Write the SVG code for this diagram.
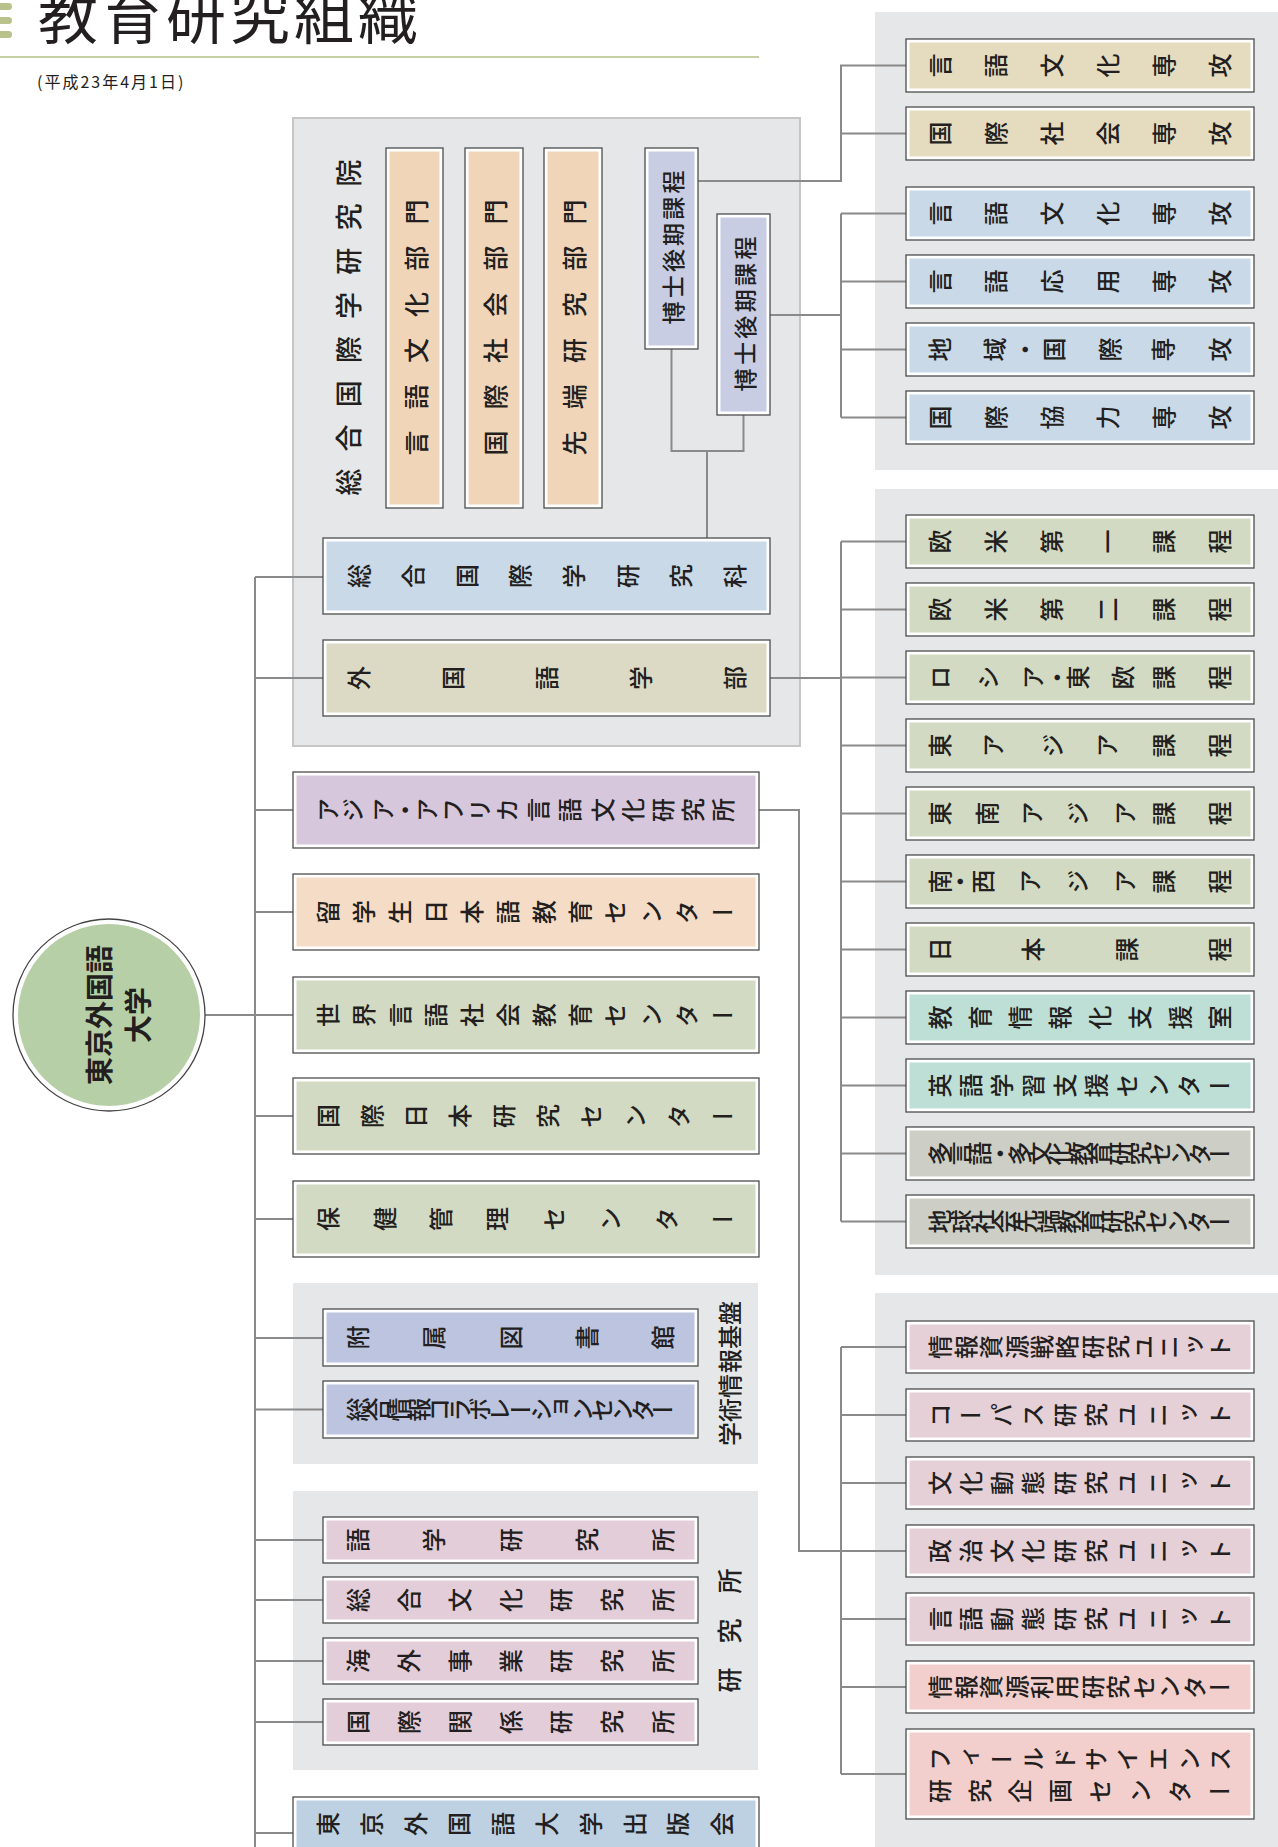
<svg xmlns="http://www.w3.org/2000/svg" width="1278" height="1847" viewBox="0 0 1278 1847">
<style>
text { font-family: "Noto Sans CJK JP", "Noto Sans CJK SC", sans-serif; fill: #231f20; font-weight: 500; }
.h { writing-mode: vertical-rl; text-anchor: middle; font-size: 24px; }
.r { text-anchor: middle; dominant-baseline: central; }
.ob { fill: #fff; stroke: #4d4d4d; stroke-width: 1.3; }
.panel { fill: #e6e7e9; }
.ln { fill: none; stroke: #8a8a8a; stroke-width: 2; }
.c-or { fill: #f1d5b9; } .c-ph { fill: #c8cde3; } .c-bl { fill: #c9d9e7; } .c-kh { fill: #dcdac5; }
.c-li { fill: #d7c7dc; } .c-pe { fill: #f4dcc6; } .c-gr { fill: #d2dac3; } .c-pw { fill: #bcc4df; }
.c-pk { fill: #e3cdd9; } .c-pb { fill: #bdd1e3; } .c-be { fill: #e5dcc0; } .c-mi { fill: #bedfd6; }
.c-gy { fill: #cdcfc6; } .c-un { fill: #e5d0d8; } .c-sa { fill: #f2cfcd; }
</style>

<g id="title">
  <rect x="-6" y="3" width="18" height="7" rx="3.5" fill="#b8c28a"/>
  <rect x="-6" y="17" width="18" height="7" rx="3.5" fill="#b8c28a"/>
  <rect x="-6" y="31" width="18" height="7" rx="3.5" fill="#b8c28a"/>
  <text x="38" y="39" font-size="60" letter-spacing="4" style="font-weight:400">教育研究組織</text>
  <line x1="0" y1="57" x2="759" y2="57" stroke="#c5d0a5" stroke-width="2"/>
  <text x="37" y="88" font-size="16" letter-spacing="2" style="font-weight:400">(平成23年4月1日)</text>
</g>

<g id="panels">
  <rect x="293" y="118" width="507" height="628" fill="#e6e7e9" stroke="#c6c6c6" stroke-width="2"/>
  <rect class="panel" x="875" y="12" width="403" height="458"/>
  <rect class="panel" x="875" y="489" width="403" height="786"/>
  <rect class="panel" x="875" y="1293" width="403" height="560"/>
  <rect class="panel" x="293" y="1283" width="465" height="181"/>
  <rect class="panel" x="293" y="1491" width="465" height="279"/>
  <text class="r" font-size="27" transform="translate(347,0) rotate(-90)" x="-482 -437.9 -393.7 -349.6 -305.4 -261.3 -217.1 -173" y="0">総合国際学研究院</text>
  <text class="r" font-size="24" transform="translate(728,0) rotate(-90)" x="-1434 -1410 -1386 -1361 -1337 -1313" y="0">学術情報基盤</text>
  <text class="r" font-size="25" transform="translate(728,0) rotate(-90)" x="-1680 -1631 -1581" y="0">研究所</text>
</g>

<g id="connectors">
  <path class="ln" d="M255 577 V1847 M205 1015 H255
  M255 577 H323 M255 678 H323 M255 810 H293 M255 912 H293 M255 1015 H293 M255 1116 H293 M255 1219 H293
  M255 1338 H323 M255 1409.5 H323 M255 1540 H323 M255 1600 H323 M255 1661 H323 M255 1722 H323 M255 1833 H293
  M671.5 349 V451 H743.5 V415 M707 451 V538
  M698 181 H841 V65.5 H906 M841 133.5 H906
  M770 315 H841 M841 213.5 V417.5 M841 213.5 H906 M841 281.5 H906 M841 349.5 H906 M841 417.5 H906
  M770 678 H841 M841 541.5 V1221.5
  M841 541.5 H906 M841 609.5 H906 M841 677.5 H906 M841 745.5 H906 M841 813.5 H906 M841 881.5 H906
  M841 949.5 H906 M841 1017.5 H906 M841 1085.5 H906 M841 1153.5 H906 M841 1221.5 H906
  M759 810 H799 V1551 H841 M841 1347 V1774
  M841 1347 H906 M841 1415 H906 M841 1483 H906 M841 1551 H906 M841 1619 H906 M841 1687 H906 M841 1774 H906"/>
</g>

<g id="university">
  <circle cx="109" cy="1015" r="96" fill="#fff" stroke="#444" stroke-width="1.3"/>
  <circle cx="109" cy="1015" r="91" fill="#b7cfa7"/>
  <text class="r" font-size="28" transform="translate(98,0) rotate(-90)" x="-1015" y="0" style="font-weight:bold">東京外国語</text>
  <text class="r" font-size="28" transform="translate(137,0) rotate(-90)" x="-1015" y="0" style="font-weight:bold">大学</text>
</g>

<g id="div-gengo-bunka">
  <rect class="ob" x="386" y="148" width="57" height="360"/><rect class="c-or" x="389.5" y="151.5" width="50" height="353"/>
  <text class="r" font-size="25" transform="translate(414.5,0) rotate(-90)" x="-443 -396.8 -350.6 -304.4 -258.2 -212" y="0">言語文化部門</text>
</g>
<g id="div-kokusai-shakai">
  <rect class="ob" x="465" y="148" width="58" height="360"/><rect class="c-or" x="468.5" y="151.5" width="51" height="353"/>
  <text class="r" font-size="25" transform="translate(494,0) rotate(-90)" x="-443 -396.8 -350.6 -304.4 -258.2 -212" y="0">国際社会部門</text>
</g>
<g id="div-sentan">
  <rect class="ob" x="544" y="148" width="58" height="360"/><rect class="c-or" x="547.5" y="151.5" width="51" height="353"/>
  <text class="r" font-size="25" transform="translate(573,0) rotate(-90)" x="-443 -396.8 -350.6 -304.4 -258.2 -212" y="0">先端研究部門</text>
</g>
<g id="doctoral-1">
  <rect class="ob" x="645" y="148" width="53" height="201"/><rect class="c-ph" x="648.5" y="151.5" width="46" height="194"/>
  <text class="r" font-size="23" transform="translate(671.5,0) rotate(-90)" x="-313 -286.8 -260.6 -234.4 -208.2 -182" y="0">博士後期課程</text>
</g>
<g id="doctoral-2">
  <rect class="ob" x="717" y="214" width="53" height="201"/><rect class="c-ph" x="720.5" y="217.5" width="46" height="194"/>
  <text class="r" font-size="23" transform="translate(743.5,0) rotate(-90)" x="-380 -353.6 -327.2 -300.8 -274.4 -248" y="0">博士後期課程</text>
</g>
<g id="graduate-school">
  <rect class="ob" x="323" y="538" width="447" height="76"/><rect class="c-bl" x="326.5" y="541.5" width="440" height="69"/>
  <text class="h" font-size="25" transform="translate(0,576) rotate(-90)" y="359 412.7 466.4 520.1 573.9 627.6 681.3 735">総合国際学研究科</text>
</g>
<g id="faculty">
  <rect class="ob" x="323" y="640" width="447" height="76"/><rect class="c-kh" x="326.5" y="643.5" width="440" height="69"/>
  <text class="h" font-size="25" transform="translate(0,678) rotate(-90)" y="359 453 547 641 735">外国語学部</text>
</g>
<g id="aa-ken">
  <rect class="ob" x="293" y="772" width="466" height="76"/><rect class="c-li" x="296.5" y="775.5" width="459" height="69"/>
  <text class="h" font-size="25" transform="translate(0,810) rotate(-90)" y="328 353 383 405 427 453 480 507 538 570 603 633 663 693 723">アジア・アフリカ言語文化研究所</text>
</g>
<g id="ryugakusei">
  <rect class="ob" x="293" y="874" width="466" height="76"/><rect class="c-pe" x="296.5" y="877.5" width="459" height="69"/>
  <text class="h" font-size="25" transform="translate(0,912) rotate(-90)" y="328 363.9 399.8 435.7 471.6 507.5 543.5 579.4 615.3 651.2 687.1 723">留学生日本語教育センター</text>
</g>
<g id="sekai-gengo">
  <rect class="ob" x="293" y="977" width="466" height="76"/><rect class="c-gr" x="296.5" y="980.5" width="459" height="69"/>
  <text class="h" font-size="25" transform="translate(0,1015) rotate(-90)" y="328 363.9 399.8 435.7 471.6 507.5 543.5 579.4 615.3 651.2 687.1 723">世界言語社会教育センター</text>
</g>
<g id="kokusai-nihon">
  <rect class="ob" x="293" y="1078" width="466" height="76"/><rect class="c-gr" x="296.5" y="1081.5" width="459" height="69"/>
  <text class="h" font-size="25" transform="translate(0,1116) rotate(-90)" y="328 371.9 415.8 459.7 503.6 547.4 591.3 635.2 679.1 723">国際日本研究センター</text>
</g>
<g id="hoken">
  <rect class="ob" x="293" y="1181" width="466" height="76"/><rect class="c-gr" x="296.5" y="1184.5" width="459" height="69"/>
  <text class="h" font-size="25" transform="translate(0,1219) rotate(-90)" y="328 384.4 440.9 497.3 553.7 610.1 666.6 723">保健管理センター</text>
</g>
<g id="library">
  <rect class="ob" x="323" y="1309" width="375" height="57"/><rect class="c-pw" x="326.5" y="1312.5" width="368" height="50"/>
  <text class="h" transform="translate(0,1337.5) rotate(-90)" y="358 434.25 510.5 586.75 663">附属図書館</text>
</g>
<g id="collaboration">
  <rect class="ob" x="323" y="1381" width="375" height="57"/><rect class="c-pw" x="326.5" y="1384.5" width="368" height="50"/>
  <text class="h" font-size="20.5" transform="translate(0,1409.5) rotate(-90)" y="358 378.3 398.7 419 439.3 459.7 480 500.3 520.7 541 561.3 581.7 602 622.3 642.7 663">総合情報コラボレーションセンター</text>
</g>
<g id="gogaku">
  <rect class="ob" x="323" y="1517" width="375" height="46"/><rect class="c-pk" x="326.5" y="1520.5" width="368" height="39"/>
  <text class="h" transform="translate(0,1540) rotate(-90)" y="358 434.25 510.5 586.75 663">語学研究所</text>
</g>
<g id="sogo-bunka">
  <rect class="ob" x="323" y="1577" width="375" height="46"/><rect class="c-pk" x="326.5" y="1580.5" width="368" height="39"/>
  <text class="h" transform="translate(0,1600) rotate(-90)" y="358 408.8 459.7 510.5 561.3 612.2 663">総合文化研究所</text>
</g>
<g id="kaigai">
  <rect class="ob" x="323" y="1638" width="375" height="46"/><rect class="c-pk" x="326.5" y="1641.5" width="368" height="39"/>
  <text class="h" transform="translate(0,1661) rotate(-90)" y="358 408.8 459.7 510.5 561.3 612.2 663">海外事業研究所</text>
</g>
<g id="kokusai-kankei">
  <rect class="ob" x="323" y="1699" width="375" height="46"/><rect class="c-pk" x="326.5" y="1702.5" width="368" height="39"/>
  <text class="h" transform="translate(0,1722) rotate(-90)" y="358 408.8 459.7 510.5 561.3 612.2 663">国際関係研究所</text>
</g>
<g id="shuppankai">
  <rect class="ob" x="293" y="1797" width="466" height="80"/><rect class="c-pb" x="296.5" y="1800.5" width="459" height="73"/>
  <text class="h" font-size="26" transform="translate(0,1824) rotate(-90)" y="328 371.8 415.6 459.3 503.1 546.9 590.7 634.4 678.2 722">東京外国語大学出版会</text>
</g>

<g id="m-gengo-bunka">
  <rect class="ob" x="906" y="39" width="348" height="53"/><rect class="c-be" x="909.5" y="42.5" width="341" height="46"/>
  <text class="h" transform="translate(0,65.5) rotate(-90)" y="940 996 1052 1108 1164 1220">言語文化専攻</text>
</g>
<g id="m-kokusai-shakai">
  <rect class="ob" x="906" y="107" width="348" height="53"/><rect class="c-be" x="909.5" y="110.5" width="341" height="46"/>
  <text class="h" transform="translate(0,133.5) rotate(-90)" y="940 996 1052 1108 1164 1220">国際社会専攻</text>
</g>
<g id="d-gengo-bunka">
  <rect class="ob" x="906" y="187" width="348" height="53"/><rect class="c-bl" x="909.5" y="190.5" width="341" height="46"/>
  <text class="h" transform="translate(0,213.5) rotate(-90)" y="940 996 1052 1108 1164 1220">言語文化専攻</text>
</g>
<g id="d-gengo-oyo">
  <rect class="ob" x="906" y="255" width="348" height="53"/><rect class="c-bl" x="909.5" y="258.5" width="341" height="46"/>
  <text class="h" transform="translate(0,281.5) rotate(-90)" y="940 996 1052 1108 1164 1220">言語応用専攻</text>
</g>
<g id="d-chiiki">
  <rect class="ob" x="906" y="323" width="348" height="53"/><rect class="c-bl" x="909.5" y="326.5" width="341" height="46"/>
  <text class="h" transform="translate(0,349.5) rotate(-90)" y="940 995 1025 1054 1110 1163 1220">地域・国際専攻</text>
</g>
<g id="d-kyoryoku">
  <rect class="ob" x="906" y="391" width="348" height="53"/><rect class="c-bl" x="909.5" y="394.5" width="341" height="46"/>
  <text class="h" transform="translate(0,417.5) rotate(-90)" y="940 996 1052 1108 1164 1220">国際協力専攻</text>
</g>

<g id="c-obei1">
  <rect class="ob" x="906" y="515" width="348" height="53"/><rect class="c-gr" x="909.5" y="518.5" width="341" height="46"/>
  <text class="h" transform="translate(0,541.5) rotate(-90)" y="940 996 1052 1108 1164 1220">欧米第一課程</text>
</g>
<g id="c-obei2">
  <rect class="ob" x="906" y="583" width="348" height="53"/><rect class="c-gr" x="909.5" y="586.5" width="341" height="46"/>
  <text class="h" transform="translate(0,609.5) rotate(-90)" y="940 996 1052 1108 1164 1220">欧米第二課程</text>
</g>
<g id="c-russia">
  <rect class="ob" x="906" y="651" width="348" height="53"/><rect class="c-gr" x="909.5" y="654.5" width="341" height="46"/>
  <text class="h" transform="translate(0,677.5) rotate(-90)" y="940 988 1033 1057 1078 1123 1164 1220">ロシア・東欧課程</text>
</g>
<g id="c-east-asia">
  <rect class="ob" x="906" y="719" width="348" height="53"/><rect class="c-gr" x="909.5" y="722.5" width="341" height="46"/>
  <text class="h" transform="translate(0,745.5) rotate(-90)" y="940 993 1053 1107 1164 1220">東アジア課程</text>
</g>
<g id="c-se-asia">
  <rect class="ob" x="906" y="787" width="348" height="53"/><rect class="c-gr" x="909.5" y="790.5" width="341" height="46"/>
  <text class="h" transform="translate(0,813.5) rotate(-90)" y="940 986.7 1031.7 1078.3 1125 1164 1220">東南アジア課程</text>
</g>
<g id="c-sw-asia">
  <rect class="ob" x="906" y="855" width="348" height="53"/><rect class="c-gr" x="909.5" y="858.5" width="341" height="46"/>
  <text class="h" transform="translate(0,881.5) rotate(-90)" y="940 960 983.3 1030 1078.3 1125 1164 1220">南・西アジア課程</text>
</g>
<g id="c-japan">
  <rect class="ob" x="906" y="923" width="348" height="53"/><rect class="c-gr" x="909.5" y="926.5" width="341" height="46"/>
  <text class="h" transform="translate(0,949.5) rotate(-90)" y="940 1033.3 1126.7 1220">日本課程</text>
</g>
<g id="kyoiku-joho">
  <rect class="ob" x="906" y="991" width="348" height="53"/><rect class="c-mi" x="909.5" y="994.5" width="341" height="46"/>
  <text class="h" transform="translate(0,1017.5) rotate(-90)" y="940 980 1020 1060 1100 1140 1180 1220">教育情報化支援室</text>
</g>
<g id="eigo">
  <rect class="ob" x="906" y="1059" width="348" height="53"/><rect class="c-mi" x="909.5" y="1062.5" width="341" height="46"/>
  <text class="h" transform="translate(0,1085.5) rotate(-90)" y="940 971.1 1002.2 1033.3 1064.4 1095.6 1126.7 1157.8 1188.9 1220">英語学習支援センター</text>
</g>
<g id="tagengo">
  <rect class="ob" x="906" y="1127" width="348" height="53"/><rect class="c-gy" x="909.5" y="1130.5" width="341" height="46"/>
  <text class="h" font-size="20.5" transform="translate(0,1153.5) rotate(-90)" y="940 960 980 1000 1020 1040 1060 1080 1100 1120 1140 1160 1180 1200 1220">多言語・多文化教育研究センター</text>
</g>
<g id="chikyu">
  <rect class="ob" x="906" y="1195" width="348" height="53"/><rect class="c-gy" x="909.5" y="1198.5" width="341" height="46"/>
  <text class="h" font-size="21.5" transform="translate(0,1221.5) rotate(-90)" y="940 961.5 983.1 1004.6 1026.2 1047.7 1069.2 1090.8 1112.3 1133.8 1155.4 1176.9 1198.5 1220">地球社会先端教育研究センター</text>
</g>

<g id="u-senryaku">
  <rect class="ob" x="906" y="1321" width="348" height="52"/><rect class="c-un" x="909.5" y="1324.5" width="341" height="45"/>
  <text class="h" transform="translate(0,1347) rotate(-90)" y="940 965.5 990.9 1016.4 1041.8 1067.3 1092.7 1118.2 1143.6 1169.1 1194.5 1220">情報資源戦略研究ユニット</text>
</g>
<g id="u-corpus">
  <rect class="ob" x="906" y="1389" width="348" height="52"/><rect class="c-un" x="909.5" y="1392.5" width="341" height="45"/>
  <text class="h" transform="translate(0,1415) rotate(-90)" y="940 971.1 1002.2 1033.3 1064.4 1095.6 1126.7 1157.8 1188.9 1220">コーパス研究ユニット</text>
</g>
<g id="u-bunka">
  <rect class="ob" x="906" y="1457" width="348" height="52"/><rect class="c-un" x="909.5" y="1460.5" width="341" height="45"/>
  <text class="h" transform="translate(0,1483) rotate(-90)" y="940 971.1 1002.2 1033.3 1064.4 1095.6 1126.7 1157.8 1188.9 1220">文化動態研究ユニット</text>
</g>
<g id="u-seiji">
  <rect class="ob" x="906" y="1525" width="348" height="52"/><rect class="c-un" x="909.5" y="1528.5" width="341" height="45"/>
  <text class="h" transform="translate(0,1551) rotate(-90)" y="940 971.1 1002.2 1033.3 1064.4 1095.6 1126.7 1157.8 1188.9 1220">政治文化研究ユニット</text>
</g>
<g id="u-gengo">
  <rect class="ob" x="906" y="1593" width="348" height="52"/><rect class="c-un" x="909.5" y="1596.5" width="341" height="45"/>
  <text class="h" transform="translate(0,1619) rotate(-90)" y="940 971.1 1002.2 1033.3 1064.4 1095.6 1126.7 1157.8 1188.9 1220">言語動態研究ユニット</text>
</g>
<g id="riyo">
  <rect class="ob" x="906" y="1661" width="348" height="52"/><rect class="c-sa" x="909.5" y="1664.5" width="341" height="45"/>
  <text class="h" transform="translate(0,1687) rotate(-90)" y="940 965.5 990.9 1016.4 1041.8 1067.3 1092.7 1118.2 1143.6 1169.1 1194.5 1220">情報資源利用研究センター</text>
</g>
<g id="field-science">
  <rect class="ob" x="906" y="1729" width="348" height="90"/><rect class="c-sa" x="909.5" y="1732.5" width="341" height="83"/>
  <text class="h" transform="translate(0,1759) rotate(-90)" y="940 971.1 1002.2 1033.3 1064.4 1095.6 1126.7 1157.8 1188.9 1220">フィールドサイエンス</text>
  <text class="h" transform="translate(0,1791) rotate(-90)" y="940 980 1020 1060 1100 1140 1180 1220">研究企画センター</text>
</g>
</svg>
